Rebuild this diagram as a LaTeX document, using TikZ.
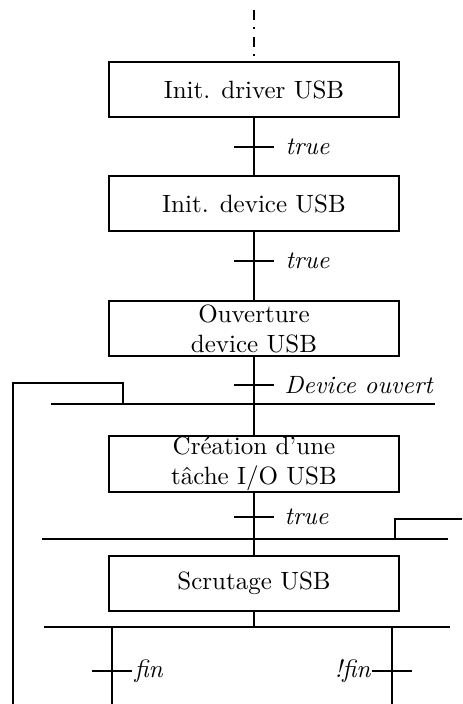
\documentclass[tikz,border=0pt]{standalone}

\tikzset{
  etape/.style={draw, line width=0.7pt, minimum width=116pt, minimum height=22pt, inner sep=0.5pt, align=center},
  lien/.style={line width=1pt},
  cond/.style={font=\itshape, inner sep=0pt},
}

\begin{document}
\begin{tikzpicture}[x=0.4pt,y=-0.4pt]
\useasboundingbox (0,0) rectangle (462,704);
% etapes
\node[etape] (driver) at (254,89.5) {Init. driver USB};
\node[etape] (device) at (254,203.5) {Init. device USB};
\node[etape] (ouverture) at (254,328.5) {Ouverture\\device USB};
\node[etape] (creation) at (254,464) {Cr\'eation d'une\\t\^ache I/O USB};
\node[etape] (scrutage) at (254,583.5) {Scrutage USB};
% points
\coordinate (debut) at (254,10);
\coordinate (t1) at (254,147);
\coordinate (t2) at (254,261);
\coordinate (t3) at (254,385);
\coordinate (t4) at (254,517);
\coordinate (s3) at (254,627);
\coordinate (fin) at (112,671);
\coordinate (nfin) at (392,671);
\draw[lien, dash pattern=on 4pt off 3pt on 0.8pt off 3pt] (debut) -- (driver.north);
\draw[lien] (driver) -- (device);
\draw[lien] (device) -- (ouverture);
\draw[lien] (ouverture) -- (creation);
\draw[lien] (creation) -- (scrutage);
\draw[lien] (scrutage) -- (s3);
% transitions
\draw[lien] (t1) ++(-20,0) -- ++(40,0);
\draw[lien] (t2) ++(-20,0) -- ++(40,0);
\draw[lien] (t3) ++(-20,0) -- ++(40,0);
\draw[lien] (t4) ++(-20,0) -- ++(40,0);
\draw[lien] (fin) ++(-20,0) -- ++(40,0);
\draw[lien] (nfin) ++(-20,0) -- ++(40,0);
\node[cond, anchor=west] (c1) at (285,147) {true};
\node[cond, anchor=west] (c2) at (285,261) {true};
\node[cond, anchor=west] (c3) at (284,385) {Device ouvert};
\node[cond, anchor=west] (c4) at (284,517) {true};
\node[cond, anchor=west] (c5) at (134,671) {fin};
\node[cond, anchor=east] (c6) at (371,671) {!fin};
% barres
\coordinate (s1g) at (51,404);
\coordinate (s1d) at (435,404);
\coordinate (s2g) at (42,539);
\coordinate (s2d) at (448,539);
\coordinate (s3g) at (44,627);
\coordinate (s3d) at (450,627);
\draw[lien] (s1g) -- (s1d);
\draw[lien] (s2g) -- (s2d);
\draw[lien] (s3g) -- (s3d);
% retours
\coordinate (retour1) at (123,404);
\coordinate (retour1b) at (13,704);
\coordinate (retour2) at (395,539);
\coordinate (retour2b) at (462,519);
\draw[lien] (retour1) -- ++(0,-21) -| (retour1b);
\draw[lien] (retour2) |- (retour2b);
% branches
\coordinate (fing) at (112,704);
\coordinate (nfind) at (392,704);
\draw[lien] (fin |- s3) -- (fing);
\draw[lien] (nfin |- s3) -- (nfind);
\end{tikzpicture}
\end{document}
